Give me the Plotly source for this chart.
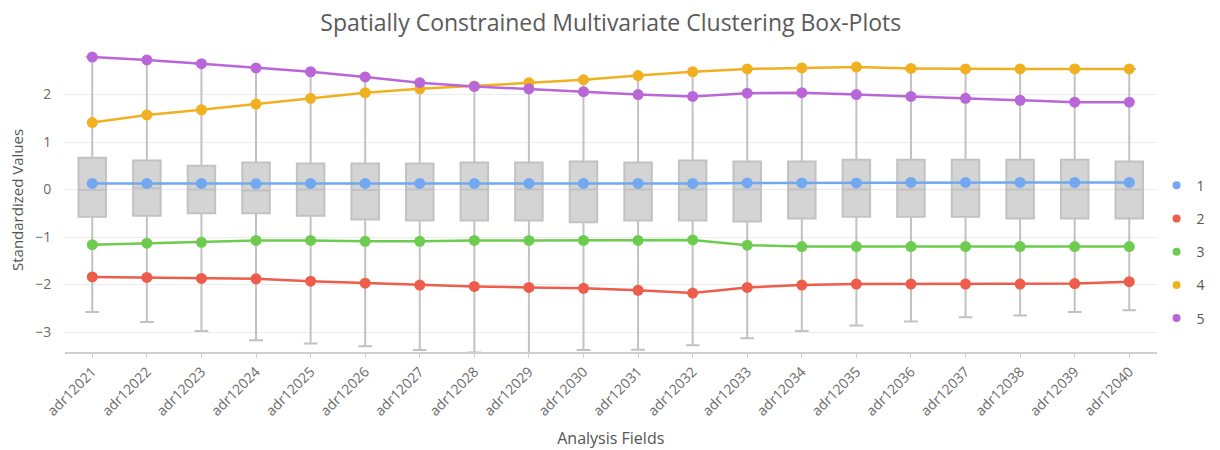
import plotly.graph_objects as go

# Analysis fields (one box per field)
fields = [f"adr120{n}" for n in range(21, 41)]

# Box-plot statistics for every field (standardized values)
box_q3 = [0.67, 0.61, 0.50, 0.57, 0.55, 0.55, 0.55, 0.57, 0.57, 0.59,
          0.57, 0.61, 0.59, 0.59, 0.63, 0.63, 0.63, 0.63, 0.63, 0.59]
box_q1 = [-0.57, -0.55, -0.50, -0.50, -0.55, -0.63, -0.65, -0.65, -0.65, -0.69,
          -0.65, -0.65, -0.67, -0.61, -0.57, -0.57, -0.57, -0.61, -0.61, -0.61]
box_median = [-0.01, 0.03, 0.0, -0.02, 0.0, -0.01, 0.0, 0.0, 0.0, 0.0,
              0.0, 0.0, 0.0, 0.0, 0.0, 0.0, 0.0, 0.0, 0.0, 0.0]
box_lower = [-2.58, -2.79, -2.98, -3.17, -3.24, -3.30, -3.38, -3.43, -3.46, -3.38,
             -3.37, -3.28, -3.13, -2.98, -2.86, -2.78, -2.69, -2.65, -2.58, -2.54]
box_upper = [2.79, 2.73, 2.65, 2.56, 2.48, 2.37, 2.25, 2.18, 2.25, 2.31,
             2.40, 2.48, 2.54, 2.56, 2.58, 2.55, 2.54, 2.54, 2.54, 2.54]

# Cluster means per field
cluster_1 = [0.13, 0.13, 0.13, 0.12, 0.13, 0.13, 0.13, 0.13, 0.13, 0.13,
             0.13, 0.13, 0.14, 0.14, 0.14, 0.15, 0.15, 0.15, 0.15, 0.15]
cluster_2 = [-1.84, -1.85, -1.87, -1.88, -1.93, -1.97, -2.01, -2.04, -2.06, -2.08,
             -2.12, -2.18, -2.06, -2.01, -1.99, -1.99, -1.99, -1.99, -1.98, -1.94]
cluster_3 = [-1.16, -1.13, -1.11, -1.07, -1.07, -1.09, -1.09, -1.07, -1.07, -1.07,
             -1.07, -1.06, -1.17, -1.20, -1.20, -1.20, -1.20, -1.20, -1.20, -1.20]
cluster_4 = [1.41, 1.57, 1.68, 1.80, 1.92, 2.04, 2.12, 2.18, 2.25, 2.31,
             2.40, 2.48, 2.54, 2.56, 2.58, 2.55, 2.54, 2.54, 2.54, 2.54]
cluster_5 = [2.79, 2.73, 2.65, 2.56, 2.48, 2.37, 2.25, 2.17, 2.12, 2.06,
             2.00, 1.96, 2.03, 2.04, 2.00, 1.96, 1.92, 1.88, 1.84, 1.84]

cluster_names = ["1", "2", "3", "4", "5"]
cluster_values = [cluster_1, cluster_2, cluster_3, cluster_4, cluster_5]
cluster_colors = ["#72a8f0", "#ee5d4b", "#6dcc4f", "#f1b020", "#b966d9"]

font_family = "Open Sans, Noto Sans, sans-serif"

fig = go.Figure()

fig.add_trace(go.Box(
    x=fields,
    q1=box_q1,
    median=box_median,
    q3=box_q3,
    lowerfence=box_lower,
    upperfence=box_upper,
    boxpoints=False,
    fillcolor="rgba(196,196,196,0.72)",
    line=dict(color="#c2c2c2", width=2),
    whiskerwidth=0.5,
    showlegend=False,
    hoverinfo="skip",
))

for name, vals, col in zip(cluster_names, cluster_values, cluster_colors):
    fig.add_trace(go.Scatter(
        x=fields, y=vals, mode="lines+markers", name=name,
        line=dict(color=col, width=2.5),
        marker=dict(color=col, size=11),
        legendgroup=name, showlegend=False,
    ))

# Marker-only legend entries
for name, col in zip(cluster_names, cluster_colors):
    fig.add_trace(go.Scatter(
        x=[None], y=[None], mode="markers", name=name,
        marker=dict(color=col, size=8),
        legendgroup=name, showlegend=True,
    ))

fig.update_layout(
    width=1220, height=450,
    margin=dict(l=65, r=62, t=48, b=98),
    paper_bgcolor="white", plot_bgcolor="white",
    font=dict(family=font_family, color="#666666", size=12),
    title=dict(
        text="Spatially Constrained Multivariate Clustering Box-Plots",
        x=0.5, xref="paper", y=0.948, yanchor="middle",
        font=dict(size=23, color="#5a5a5a", family=font_family),
    ),
    boxgap=0.28,
    showlegend=True,
    legend=dict(
        xref="container", x=0.948, xanchor="left",
        y=0.33, yanchor="middle",
        tracegroupgap=12,
        font=dict(size=14, color="#555555"),
        bgcolor="rgba(0,0,0,0)",
    ),
    xaxis=dict(
        title=dict(text="Analysis Fields", font=dict(size=16, color="#555555"), standoff=14),
        tickangle=-45,
        tickfont=dict(size=14, color="#6a6a6a"),
        showline=True, linecolor="#cfcfcf", linewidth=2,
        ticks="outside", ticklen=4, tickcolor="#cfcfcf",
        showgrid=False, range=[-0.5, 19.5], automargin=False,
    ),
    yaxis=dict(
        title=dict(text="Standardized Values", font=dict(size=15, color="#555555"), standoff=7),
        range=[-3.42, 2.98],
        tickvals=[-3, -2, -1, 0, 1, 2],
        tickfont=dict(size=14, color="#6a6a6a"),
        ticks="outside", ticklen=10, tickcolor="rgba(0,0,0,0)",
        showgrid=True, gridcolor="#ececec", gridwidth=1,
        zeroline=False, showline=False, automargin=False,
    ),
)

fig.write_html("out.html")
